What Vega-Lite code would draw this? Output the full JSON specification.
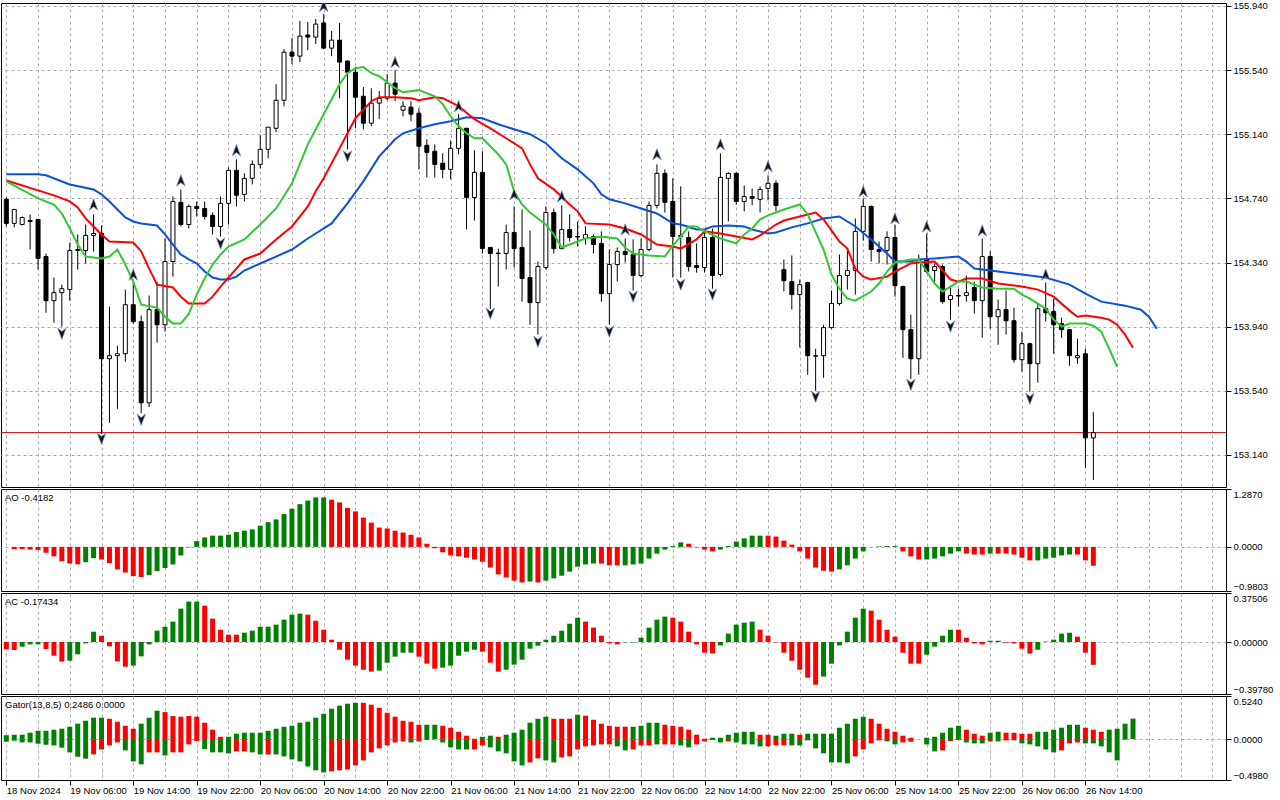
{
  "$schema": "https://vega.github.io/schema/vega-lite/v6.json",
  "background": "white",
  "padding": {"left": 0, "top": 0, "right": 0, "bottom": 0},
  "spacing": 2,
  "bounds": "flush",
  "config": {
    "view": {"stroke": "black", "strokeWidth": 1},
    "axis": {
      "labelFont": "Liberation Sans", "labelFontSize": 9.5, "labelColor": "black",
      "gridColor": "#b0a8b4", "gridDash": [3, 3], "gridWidth": 1,
      "domain": false, "tickColor": "black", "tickWidth": 1
    },
    "title": {"font": "Liberation Sans", "fontSize": 9.5, "fontWeight": "normal", "color": "black", "anchor": "start", "offset": -14, "dx": 4, "baseline": "bottom"}
  },
  "datasets": {
    "candles": [
      {"i":0,"o":154.734,"h":154.746,"l":154.565,"c":154.584},
      {"i":1,"o":154.584,"h":154.671,"l":154.559,"c":154.671},
      {"i":2,"o":154.577,"h":154.627,"l":154.571,"c":154.621},
      {"i":3,"o":154.602,"h":154.640,"l":154.421,"c":154.596},
      {"i":4,"o":154.609,"h":154.612,"l":154.296,"c":154.365},
      {"i":5,"o":154.377,"h":154.396,"l":154.027,"c":154.102},
      {"i":6,"o":154.102,"h":154.246,"l":153.965,"c":154.152},
      {"i":7,"o":154.152,"h":154.202,"l":153.940,"c":154.177},
      {"i":8,"o":154.171,"h":154.465,"l":154.102,"c":154.415},
      {"i":9,"o":154.415,"h":154.515,"l":154.296,"c":154.421},
      {"i":10,"o":154.415,"h":154.577,"l":154.334,"c":154.509},
      {"i":11,"o":154.509,"h":154.640,"l":154.409,"c":154.521},
      {"i":12,"o":154.521,"h":154.571,"l":153.271,"c":153.740},
      {"i":13,"o":153.740,"h":154.065,"l":153.340,"c":153.759},
      {"i":14,"o":153.759,"h":153.821,"l":153.427,"c":153.771},
      {"i":15,"o":153.771,"h":154.171,"l":153.721,"c":154.077},
      {"i":16,"o":154.077,"h":154.215,"l":153.959,"c":153.971},
      {"i":17,"o":153.971,"h":154.009,"l":153.402,"c":153.465},
      {"i":18,"o":153.465,"h":154.134,"l":153.440,"c":154.046},
      {"i":19,"o":154.046,"h":154.221,"l":153.840,"c":153.952},
      {"i":20,"o":153.952,"h":154.490,"l":153.909,"c":154.346},
      {"i":21,"o":154.346,"h":154.752,"l":154.252,"c":154.721},
      {"i":22,"o":154.715,"h":154.796,"l":154.565,"c":154.577},
      {"i":23,"o":154.577,"h":154.702,"l":154.552,"c":154.690},
      {"i":24,"o":154.690,"h":154.721,"l":154.627,"c":154.677},
      {"i":25,"o":154.677,"h":154.721,"l":154.609,"c":154.627},
      {"i":26,"o":154.634,"h":154.652,"l":154.515,"c":154.565},
      {"i":27,"o":154.565,"h":154.752,"l":154.502,"c":154.709},
      {"i":28,"o":154.709,"h":154.934,"l":154.577,"c":154.915},
      {"i":29,"o":154.915,"h":154.984,"l":154.690,"c":154.759},
      {"i":30,"o":154.765,"h":154.896,"l":154.721,"c":154.865},
      {"i":31,"o":154.865,"h":154.977,"l":154.827,"c":154.952},
      {"i":32,"o":154.952,"h":155.134,"l":154.927,"c":155.046},
      {"i":33,"o":155.046,"h":155.184,"l":154.990,"c":155.184},
      {"i":34,"o":155.177,"h":155.452,"l":155.152,"c":155.352},
      {"i":35,"o":155.352,"h":155.671,"l":155.315,"c":155.652},
      {"i":36,"o":155.652,"h":155.740,"l":155.577,"c":155.627},
      {"i":37,"o":155.627,"h":155.846,"l":155.590,"c":155.752},
      {"i":38,"o":155.759,"h":155.840,"l":155.665,"c":155.746},
      {"i":39,"o":155.746,"h":155.859,"l":155.702,"c":155.827},
      {"i":40,"o":155.834,"h":155.890,"l":155.670,"c":155.677},
      {"i":41,"o":155.677,"h":155.784,"l":155.627,"c":155.727},
      {"i":42,"o":155.727,"h":155.834,"l":155.365,"c":155.590},
      {"i":43,"o":155.596,"h":155.602,"l":155.046,"c":155.527},
      {"i":44,"o":155.527,"h":155.559,"l":155.177,"c":155.371},
      {"i":45,"o":155.377,"h":155.434,"l":155.171,"c":155.209},
      {"i":46,"o":155.209,"h":155.427,"l":155.190,"c":155.334},
      {"i":47,"o":155.334,"h":155.409,"l":155.234,"c":155.365},
      {"i":48,"o":155.365,"h":155.515,"l":155.352,"c":155.459},
      {"i":49,"o":155.459,"h":155.540,"l":155.346,"c":155.390},
      {"i":50,"o":155.290,"h":155.346,"l":155.252,"c":155.315},
      {"i":51,"o":155.309,"h":155.346,"l":155.221,"c":155.265},
      {"i":52,"o":155.271,"h":155.302,"l":154.921,"c":155.065},
      {"i":53,"o":155.071,"h":155.109,"l":154.871,"c":155.027},
      {"i":54,"o":155.034,"h":155.077,"l":154.871,"c":154.952},
      {"i":55,"o":154.959,"h":155.021,"l":154.865,"c":154.921},
      {"i":56,"o":154.921,"h":155.102,"l":154.859,"c":155.052},
      {"i":57,"o":155.052,"h":155.265,"l":155.015,"c":155.177},
      {"i":58,"o":155.177,"h":155.180,"l":154.546,"c":154.746},
      {"i":59,"o":154.746,"h":155.040,"l":154.602,"c":154.902},
      {"i":60,"o":154.902,"h":155.034,"l":154.396,"c":154.427},
      {"i":61,"o":154.434,"h":154.437,"l":154.052,"c":154.396},
      {"i":62,"o":154.396,"h":154.427,"l":154.190,"c":154.399},
      {"i":63,"o":154.396,"h":154.577,"l":154.296,"c":154.527},
      {"i":64,"o":154.527,"h":154.690,"l":154.309,"c":154.427},
      {"i":65,"o":154.434,"h":154.671,"l":154.096,"c":154.240},
      {"i":66,"o":154.246,"h":154.540,"l":153.952,"c":154.090},
      {"i":67,"o":154.090,"h":154.346,"l":153.890,"c":154.315},
      {"i":68,"o":154.309,"h":154.690,"l":154.296,"c":154.652},
      {"i":69,"o":154.652,"h":154.677,"l":154.396,"c":154.427},
      {"i":70,"o":154.427,"h":154.696,"l":154.421,"c":154.546},
      {"i":71,"o":154.546,"h":154.640,"l":154.471,"c":154.496},
      {"i":72,"o":154.502,"h":154.596,"l":154.440,"c":154.499},
      {"i":73,"o":154.490,"h":154.565,"l":154.452,"c":154.515},
      {"i":74,"o":154.502,"h":154.515,"l":154.396,"c":154.452},
      {"i":75,"o":154.459,"h":154.534,"l":154.096,"c":154.146},
      {"i":76,"o":154.146,"h":154.421,"l":153.952,"c":154.327},
      {"i":77,"o":154.327,"h":154.434,"l":154.221,"c":154.409},
      {"i":78,"o":154.409,"h":154.490,"l":154.340,"c":154.390},
      {"i":79,"o":154.390,"h":154.484,"l":154.165,"c":154.259},
      {"i":80,"o":154.259,"h":154.490,"l":154.246,"c":154.421},
      {"i":81,"o":154.421,"h":154.721,"l":154.409,"c":154.696},
      {"i":82,"o":154.696,"h":154.952,"l":154.677,"c":154.896},
      {"i":83,"o":154.896,"h":154.921,"l":154.652,"c":154.715},
      {"i":84,"o":154.721,"h":154.865,"l":154.246,"c":154.502},
      {"i":85,"o":154.502,"h":154.815,"l":154.246,"c":154.509},
      {"i":86,"o":154.496,"h":154.534,"l":154.284,"c":154.315},
      {"i":87,"o":154.321,"h":154.459,"l":154.277,"c":154.309},
      {"i":88,"o":154.309,"h":154.546,"l":154.277,"c":154.496},
      {"i":89,"o":154.496,"h":154.552,"l":154.177,"c":154.259},
      {"i":90,"o":154.265,"h":155.021,"l":154.252,"c":154.871},
      {"i":91,"o":154.865,"h":154.902,"l":154.596,"c":154.896},
      {"i":92,"o":154.896,"h":154.902,"l":154.702,"c":154.721},
      {"i":93,"o":154.721,"h":154.821,"l":154.659,"c":154.752},
      {"i":94,"o":154.752,"h":154.802,"l":154.696,"c":154.740},
      {"i":95,"o":154.734,"h":154.815,"l":154.652,"c":154.796},
      {"i":96,"o":154.802,"h":154.884,"l":154.727,"c":154.834},
      {"i":97,"o":154.834,"h":154.852,"l":154.659,"c":154.696},
      {"i":98,"o":154.296,"h":154.359,"l":154.159,"c":154.227},
      {"i":99,"o":154.221,"h":154.384,"l":154.046,"c":154.140},
      {"i":100,"o":154.140,"h":154.234,"l":153.809,"c":154.202},
      {"i":101,"o":154.215,"h":154.221,"l":153.640,"c":153.759},
      {"i":102,"o":153.759,"h":153.802,"l":153.540,"c":153.756},
      {"i":103,"o":153.759,"h":153.952,"l":153.621,"c":153.934},
      {"i":104,"o":153.934,"h":154.165,"l":153.927,"c":154.084},
      {"i":105,"o":154.084,"h":154.390,"l":154.071,"c":154.259},
      {"i":106,"o":154.259,"h":154.415,"l":154.171,"c":154.290},
      {"i":107,"o":154.290,"h":154.615,"l":154.140,"c":154.534},
      {"i":108,"o":154.534,"h":154.740,"l":154.477,"c":154.690},
      {"i":109,"o":154.690,"h":154.696,"l":154.346,"c":154.421},
      {"i":110,"o":154.421,"h":154.471,"l":154.334,"c":154.409},
      {"i":111,"o":154.415,"h":154.534,"l":154.327,"c":154.496},
      {"i":112,"o":154.496,"h":154.577,"l":154.127,"c":154.196},
      {"i":113,"o":154.190,"h":154.196,"l":153.746,"c":153.921},
      {"i":114,"o":153.921,"h":154.015,"l":153.615,"c":153.740},
      {"i":115,"o":153.740,"h":154.390,"l":153.640,"c":154.359},
      {"i":116,"o":154.365,"h":154.521,"l":154.271,"c":154.284},
      {"i":117,"o":154.290,"h":154.334,"l":154.221,"c":154.315},
      {"i":118,"o":154.315,"h":154.327,"l":154.084,"c":154.096},
      {"i":119,"o":154.109,"h":154.190,"l":153.984,"c":154.134},
      {"i":120,"o":154.134,"h":154.177,"l":154.065,"c":154.131},
      {"i":121,"o":154.134,"h":154.259,"l":154.096,"c":154.152},
      {"i":122,"o":154.184,"h":154.221,"l":154.021,"c":154.102},
      {"i":123,"o":154.102,"h":154.490,"l":153.871,"c":154.377},
      {"i":124,"o":154.377,"h":154.409,"l":153.927,"c":154.002},
      {"i":125,"o":154.002,"h":154.109,"l":153.827,"c":154.046},
      {"i":126,"o":154.046,"h":154.165,"l":153.890,"c":153.977},
      {"i":127,"o":153.977,"h":154.059,"l":153.715,"c":153.734},
      {"i":128,"o":153.734,"h":153.909,"l":153.659,"c":153.834},
      {"i":129,"o":153.834,"h":153.840,"l":153.534,"c":153.709},
      {"i":130,"o":153.709,"h":154.084,"l":153.590,"c":154.052},
      {"i":131,"o":154.052,"h":154.215,"l":153.971,"c":154.027},
      {"i":132,"o":154.034,"h":154.115,"l":153.771,"c":153.952},
      {"i":133,"o":153.959,"h":153.996,"l":153.871,"c":153.921},
      {"i":134,"o":153.921,"h":153.925,"l":153.696,"c":153.759},
      {"i":135,"o":153.746,"h":153.865,"l":153.709,"c":153.759},
      {"i":136,"o":153.771,"h":153.802,"l":153.059,"c":153.246},
      {"i":137,"o":153.246,"h":153.409,"l":152.984,"c":153.279}
    ],
    "jaw": [
      {"i":0,"v":154.890},{"i":4,"v":154.890},{"i":5,"v":154.884},{"i":8,"v":154.827},{"i":11,"v":154.796},{"i":12,"v":154.765},{"i":13,"v":154.721},{"i":14,"v":154.671},{"i":15,"v":154.621},{"i":16,"v":154.596},{"i":17,"v":154.584},{"i":19,"v":154.571},{"i":20,"v":154.515},{"i":21,"v":154.452},{"i":22,"v":154.390},{"i":23,"v":154.359},{"i":24,"v":154.334},{"i":25,"v":154.284},{"i":26,"v":154.246},{"i":27,"v":154.234},{"i":28,"v":154.234},{"i":29,"v":154.252},{"i":30,"v":154.290},{"i":32,"v":154.334},{"i":34,"v":154.377},{"i":36,"v":154.421},{"i":38,"v":154.490},{"i":39,"v":154.521},{"i":41,"v":154.584},{"i":43,"v":154.709},{"i":45,"v":154.846},{"i":47,"v":155.002},{"i":49,"v":155.109},{"i":50,"v":155.146},{"i":52,"v":155.177},{"i":54,"v":155.202},{"i":56,"v":155.221},{"i":58,"v":155.246},{"i":60,"v":155.240},{"i":62,"v":155.202},{"i":64,"v":155.171},{"i":66,"v":155.140},{"i":68,"v":155.084},{"i":70,"v":154.990},{"i":72,"v":154.921},{"i":74,"v":154.834},{"i":75,"v":154.765},{"i":76,"v":154.734},{"i":78,"v":154.709},{"i":80,"v":154.677},{"i":82,"v":154.646},{"i":84,"v":154.584},{"i":85,"v":154.577},{"i":87,"v":154.546},{"i":88,"v":154.546},{"i":89,"v":154.565},{"i":91,"v":154.571},{"i":93,"v":154.565},{"i":94,"v":154.546},{"i":96,"v":154.521},{"i":97,"v":154.527},{"i":99,"v":154.559},{"i":101,"v":154.584},{"i":103,"v":154.615},{"i":105,"v":154.627},{"i":107,"v":154.565},{"i":109,"v":154.484},{"i":111,"v":154.396},{"i":112,"v":154.346},{"i":114,"v":154.346},{"i":115,"v":154.359},{"i":117,"v":154.365},{"i":120,"v":154.377},{"i":121,"v":154.346},{"i":122,"v":154.302},{"i":125,"v":154.284},{"i":128,"v":154.265},{"i":131,"v":154.246},{"i":134,"v":154.202},{"i":136,"v":154.146},{"i":138,"v":154.096},{"i":141,"v":154.071},{"i":143,"v":154.046},{"i":144,"v":154.002},{"i":145,"v":153.927}
    ],
    "teeth": [
      {"i":0,"v":154.852},{"i":4,"v":154.790},{"i":6,"v":154.759},{"i":8,"v":154.721},{"i":9,"v":154.684},{"i":10,"v":154.615},{"i":11,"v":154.565},{"i":12,"v":154.515},{"i":13,"v":154.471},{"i":16,"v":154.465},{"i":17,"v":154.409},{"i":18,"v":154.302},{"i":19,"v":154.202},{"i":21,"v":154.184},{"i":22,"v":154.127},{"i":23,"v":154.084},{"i":25,"v":154.084},{"i":26,"v":154.127},{"i":27,"v":154.190},{"i":29,"v":154.302},{"i":30,"v":154.359},{"i":32,"v":154.396},{"i":34,"v":154.484},{"i":36,"v":154.565},{"i":38,"v":154.690},{"i":39,"v":154.784},{"i":40,"v":154.865},{"i":42,"v":155.052},{"i":44,"v":155.240},{"i":46,"v":155.346},{"i":47,"v":155.371},{"i":49,"v":155.371},{"i":51,"v":155.365},{"i":52,"v":155.352},{"i":54,"v":155.371},{"i":55,"v":155.365},{"i":57,"v":155.315},{"i":59,"v":155.234},{"i":61,"v":155.177},{"i":63,"v":155.115},{"i":65,"v":155.052},{"i":66,"v":154.952},{"i":67,"v":154.865},{"i":69,"v":154.796},{"i":71,"v":154.702},{"i":72,"v":154.659},{"i":73,"v":154.584},{"i":76,"v":154.577},{"i":78,"v":154.552},{"i":80,"v":154.515},{"i":82,"v":154.452},{"i":84,"v":154.440},{"i":85,"v":154.427},{"i":87,"v":154.484},{"i":88,"v":154.534},{"i":90,"v":154.521},{"i":92,"v":154.502},{"i":94,"v":154.484},{"i":95,"v":154.509},{"i":97,"v":154.577},{"i":98,"v":154.602},{"i":100,"v":154.627},{"i":102,"v":154.652},{"i":103,"v":154.609},{"i":105,"v":154.471},{"i":106,"v":154.427},{"i":107,"v":154.302},{"i":108,"v":154.252},{"i":109,"v":154.234},{"i":111,"v":154.252},{"i":112,"v":154.284},{"i":114,"v":154.334},{"i":115,"v":154.340},{"i":117,"v":154.346},{"i":119,"v":154.234},{"i":120,"v":154.221},{"i":121,"v":154.240},{"i":123,"v":154.240},{"i":125,"v":154.209},{"i":128,"v":154.190},{"i":130,"v":154.171},{"i":132,"v":154.127},{"i":134,"v":154.040},{"i":135,"v":154.002},{"i":136,"v":154.009},{"i":138,"v":153.996},{"i":139,"v":153.984},{"i":140,"v":153.952},{"i":141,"v":153.890},{"i":142,"v":153.809}
    ],
    "lips": [
      {"i":0,"v":154.846},{"i":4,"v":154.740},{"i":6,"v":154.702},{"i":7,"v":154.646},{"i":8,"v":154.552},{"i":9,"v":154.452},{"i":10,"v":154.377},{"i":12,"v":154.365},{"i":13,"v":154.377},{"i":14,"v":154.421},{"i":15,"v":154.327},{"i":16,"v":154.221},{"i":17,"v":154.077},{"i":19,"v":154.059},{"i":20,"v":154.002},{"i":21,"v":153.959},{"i":22,"v":153.959},{"i":23,"v":154.021},{"i":24,"v":154.140},{"i":25,"v":154.240},{"i":26,"v":154.327},{"i":27,"v":154.390},{"i":28,"v":154.440},{"i":30,"v":154.484},{"i":32,"v":154.577},{"i":34,"v":154.677},{"i":36,"v":154.834},{"i":38,"v":155.077},{"i":40,"v":155.265},{"i":42,"v":155.452},{"i":43,"v":155.521},{"i":44,"v":155.552},{"i":45,"v":155.559},{"i":46,"v":155.521},{"i":47,"v":155.502},{"i":49,"v":155.427},{"i":50,"v":155.402},{"i":52,"v":155.415},{"i":54,"v":155.377},{"i":55,"v":155.327},{"i":56,"v":155.252},{"i":57,"v":155.190},{"i":58,"v":155.146},{"i":59,"v":155.115},{"i":60,"v":155.115},{"i":61,"v":155.065},{"i":62,"v":155.015},{"i":63,"v":154.952},{"i":64,"v":154.784},{"i":65,"v":154.702},{"i":66,"v":154.652},{"i":68,"v":154.577},{"i":69,"v":154.515},{"i":70,"v":154.434},{"i":71,"v":154.452},{"i":72,"v":154.471},{"i":73,"v":154.490},{"i":75,"v":154.502},{"i":77,"v":154.490},{"i":78,"v":154.434},{"i":79,"v":154.396},{"i":81,"v":154.384},{"i":83,"v":154.377},{"i":84,"v":154.446},{"i":85,"v":154.502},{"i":86,"v":154.565},{"i":87,"v":154.565},{"i":88,"v":154.534},{"i":90,"v":154.490},{"i":92,"v":154.459},{"i":93,"v":154.515},{"i":94,"v":154.552},{"i":95,"v":154.609},{"i":96,"v":154.634},{"i":98,"v":154.671},{"i":100,"v":154.702},{"i":101,"v":154.640},{"i":103,"v":154.421},{"i":104,"v":154.265},{"i":105,"v":154.177},{"i":106,"v":154.115},{"i":107,"v":154.102},{"i":109,"v":154.159},{"i":110,"v":154.209},{"i":111,"v":154.284},{"i":112,"v":154.340},{"i":114,"v":154.359},{"i":115,"v":154.359},{"i":116,"v":154.284},{"i":117,"v":154.209},{"i":118,"v":154.159},{"i":119,"v":154.190},{"i":120,"v":154.221},{"i":121,"v":154.221},{"i":123,"v":154.184},{"i":125,"v":154.177},{"i":127,"v":154.177},{"i":128,"v":154.140},{"i":129,"v":154.115},{"i":130,"v":154.084},{"i":131,"v":154.052},{"i":132,"v":153.984},{"i":133,"v":153.940},{"i":134,"v":153.959},{"i":136,"v":153.959},{"i":137,"v":153.946},{"i":138,"v":153.909},{"i":139,"v":153.802},{"i":140,"v":153.690}
    ],
    "fractals": [
      {"i":11,"p":154.702,"dir":"up"},{"i":16,"p":154.265,"dir":"up"},{"i":22,"p":154.852,"dir":"up"},{"i":29,"p":155.040,"dir":"up"},{"i":40,"p":155.940,"dir":"up"},{"i":49,"p":155.590,"dir":"up"},{"i":57,"p":155.315,"dir":"up"},{"i":64,"p":154.765,"dir":"up"},{"i":70,"p":154.752,"dir":"up"},{"i":78,"p":154.546,"dir":"up"},{"i":82,"p":155.015,"dir":"up"},{"i":90,"p":155.077,"dir":"up"},{"i":96,"p":154.940,"dir":"up"},{"i":108,"p":154.784,"dir":"up"},{"i":112,"p":154.615,"dir":"up"},{"i":116,"p":154.565,"dir":"up"},{"i":123,"p":154.540,"dir":"up"},{"i":131,"p":154.265,"dir":"up"},
      {"i":7,"p":153.896,"dir":"down"},{"i":12,"p":153.240,"dir":"down"},{"i":17,"p":153.359,"dir":"down"},{"i":27,"p":154.459,"dir":"down"},{"i":43,"p":155.002,"dir":"down"},{"i":61,"p":154.021,"dir":"down"},{"i":67,"p":153.846,"dir":"down"},{"i":76,"p":153.909,"dir":"down"},{"i":79,"p":154.127,"dir":"down"},{"i":85,"p":154.202,"dir":"down"},{"i":89,"p":154.140,"dir":"down"},{"i":102,"p":153.502,"dir":"down"},{"i":114,"p":153.577,"dir":"down"},{"i":119,"p":153.940,"dir":"down"},{"i":129,"p":153.490,"dir":"down"}
    ],
    "last": [{"price": 153.279}],
    "osc": [
      {"i":0,"ao":null,"aoDir":"down","ac":-0.056,"acDir":"down"},
      {"i":1,"ao":-0.05,"aoDir":"down","ac":-0.061,"acDir":"down"},
      {"i":2,"ao":-0.05,"aoDir":"down","ac":-0.036,"acDir":"up"},
      {"i":3,"ao":-0.06,"aoDir":"down","ac":-0.018,"acDir":"up"},
      {"i":4,"ao":-0.07,"aoDir":"down","ac":-0.018,"acDir":"up"},
      {"i":5,"ao":-0.13,"aoDir":"down","ac":-0.054,"acDir":"down"},
      {"i":6,"ao":-0.21,"aoDir":"down","ac":-0.105,"acDir":"down"},
      {"i":7,"ao":-0.32,"aoDir":"down","ac":-0.150,"acDir":"down"},
      {"i":8,"ao":-0.37,"aoDir":"down","ac":-0.143,"acDir":"up"},
      {"i":9,"ao":-0.39,"aoDir":"down","ac":-0.094,"acDir":"up"},
      {"i":10,"ao":-0.34,"aoDir":"up","ac":-0.010,"acDir":"up"},
      {"i":11,"ao":-0.25,"aoDir":"up","ac":0.079,"acDir":"up"},
      {"i":12,"ao":-0.28,"aoDir":"down","ac":0.048,"acDir":"down"},
      {"i":13,"ao":-0.36,"aoDir":"down","ac":-0.033,"acDir":"down"},
      {"i":14,"ao":-0.50,"aoDir":"down","ac":-0.148,"acDir":"down"},
      {"i":15,"ao":-0.57,"aoDir":"down","ac":-0.189,"acDir":"down"},
      {"i":16,"ao":-0.65,"aoDir":"down","ac":-0.181,"acDir":"up"},
      {"i":17,"ao":-0.67,"aoDir":"down","ac":-0.110,"acDir":"up"},
      {"i":18,"ao":-0.63,"aoDir":"up","ac":-0.018,"acDir":"up"},
      {"i":19,"ao":-0.54,"aoDir":"up","ac":0.087,"acDir":"up"},
      {"i":20,"ao":-0.47,"aoDir":"up","ac":0.117,"acDir":"up"},
      {"i":21,"ao":-0.39,"aoDir":"up","ac":0.156,"acDir":"up"},
      {"i":22,"ao":-0.19,"aoDir":"up","ac":0.255,"acDir":"up"},
      {"i":23,"ao":-0.01,"aoDir":"up","ac":0.309,"acDir":"up"},
      {"i":24,"ao":0.13,"aoDir":"up","ac":0.309,"acDir":"up"},
      {"i":25,"ao":0.21,"aoDir":"up","ac":0.278,"acDir":"down"},
      {"i":26,"ao":0.25,"aoDir":"up","ac":0.179,"acDir":"down"},
      {"i":27,"ao":0.25,"aoDir":"up","ac":0.094,"acDir":"down"},
      {"i":28,"ao":0.27,"aoDir":"up","ac":0.056,"acDir":"down"},
      {"i":29,"ao":0.33,"aoDir":"up","ac":0.056,"acDir":"down"},
      {"i":30,"ao":0.36,"aoDir":"up","ac":0.071,"acDir":"up"},
      {"i":31,"ao":0.39,"aoDir":"up","ac":0.087,"acDir":"up"},
      {"i":32,"ao":0.47,"aoDir":"up","ac":0.117,"acDir":"up"},
      {"i":33,"ao":0.55,"aoDir":"up","ac":0.117,"acDir":"up"},
      {"i":34,"ao":0.61,"aoDir":"up","ac":0.133,"acDir":"up"},
      {"i":35,"ao":0.73,"aoDir":"up","ac":0.171,"acDir":"up"},
      {"i":36,"ao":0.85,"aoDir":"up","ac":0.209,"acDir":"up"},
      {"i":37,"ao":0.95,"aoDir":"up","ac":0.217,"acDir":"up"},
      {"i":38,"ao":1.03,"aoDir":"up","ac":0.209,"acDir":"down"},
      {"i":39,"ao":1.10,"aoDir":"up","ac":0.163,"acDir":"down"},
      {"i":40,"ao":1.10,"aoDir":"up","ac":0.094,"acDir":"down"},
      {"i":41,"ao":1.05,"aoDir":"down","ac":0.018,"acDir":"down"},
      {"i":42,"ao":0.99,"aoDir":"down","ac":-0.059,"acDir":"down"},
      {"i":43,"ao":0.87,"aoDir":"down","ac":-0.135,"acDir":"down"},
      {"i":44,"ao":0.79,"aoDir":"down","ac":-0.181,"acDir":"down"},
      {"i":45,"ao":0.65,"aoDir":"down","ac":-0.212,"acDir":"down"},
      {"i":46,"ao":0.54,"aoDir":"down","ac":-0.227,"acDir":"down"},
      {"i":47,"ao":0.43,"aoDir":"down","ac":-0.219,"acDir":"up"},
      {"i":48,"ao":0.41,"aoDir":"down","ac":-0.158,"acDir":"up"},
      {"i":49,"ao":0.36,"aoDir":"down","ac":-0.112,"acDir":"up"},
      {"i":50,"ao":0.32,"aoDir":"down","ac":-0.082,"acDir":"up"},
      {"i":51,"ao":0.27,"aoDir":"down","ac":-0.082,"acDir":"up"},
      {"i":52,"ao":0.21,"aoDir":"down","ac":-0.112,"acDir":"down"},
      {"i":53,"ao":0.07,"aoDir":"down","ac":-0.166,"acDir":"down"},
      {"i":54,"ao":-0.03,"aoDir":"down","ac":-0.204,"acDir":"down"},
      {"i":55,"ao":-0.12,"aoDir":"down","ac":-0.196,"acDir":"up"},
      {"i":56,"ao":-0.19,"aoDir":"down","ac":-0.181,"acDir":"up"},
      {"i":57,"ao":-0.21,"aoDir":"down","ac":-0.105,"acDir":"up"},
      {"i":58,"ao":-0.24,"aoDir":"down","ac":-0.074,"acDir":"up"},
      {"i":59,"ao":-0.28,"aoDir":"down","ac":-0.059,"acDir":"up"},
      {"i":60,"ao":-0.33,"aoDir":"down","ac":-0.074,"acDir":"down"},
      {"i":61,"ao":-0.46,"aoDir":"down","ac":-0.158,"acDir":"down"},
      {"i":62,"ao":-0.61,"aoDir":"down","ac":-0.227,"acDir":"down"},
      {"i":63,"ao":-0.68,"aoDir":"down","ac":-0.212,"acDir":"up"},
      {"i":64,"ao":-0.75,"aoDir":"down","ac":-0.173,"acDir":"up"},
      {"i":65,"ao":-0.79,"aoDir":"down","ac":-0.135,"acDir":"up"},
      {"i":66,"ao":-0.77,"aoDir":"up","ac":-0.051,"acDir":"up"},
      {"i":67,"ao":-0.79,"aoDir":"down","ac":-0.028,"acDir":"up"},
      {"i":68,"ao":-0.75,"aoDir":"up","ac":0.018,"acDir":"up"},
      {"i":69,"ao":-0.70,"aoDir":"up","ac":0.048,"acDir":"up"},
      {"i":70,"ao":-0.64,"aoDir":"up","ac":0.087,"acDir":"up"},
      {"i":71,"ao":-0.55,"aoDir":"up","ac":0.140,"acDir":"up"},
      {"i":72,"ao":-0.44,"aoDir":"up","ac":0.186,"acDir":"up"},
      {"i":73,"ao":-0.39,"aoDir":"up","ac":0.156,"acDir":"down"},
      {"i":74,"ao":-0.37,"aoDir":"up","ac":0.110,"acDir":"down"},
      {"i":75,"ao":-0.37,"aoDir":"down","ac":0.048,"acDir":"down"},
      {"i":76,"ao":-0.41,"aoDir":"down","ac":-0.010,"acDir":"down"},
      {"i":77,"ao":-0.41,"aoDir":"down","ac":-0.018,"acDir":"down"},
      {"i":78,"ao":-0.41,"aoDir":"up","ac":-0.003,"acDir":"up"},
      {"i":79,"ao":-0.39,"aoDir":"up","ac":-0.003,"acDir":"up"},
      {"i":80,"ao":-0.37,"aoDir":"up","ac":0.033,"acDir":"up"},
      {"i":81,"ao":-0.26,"aoDir":"up","ac":0.110,"acDir":"up"},
      {"i":82,"ao":-0.15,"aoDir":"up","ac":0.171,"acDir":"up"},
      {"i":83,"ao":-0.06,"aoDir":"up","ac":0.194,"acDir":"up"},
      {"i":84,"ao":0.02,"aoDir":"up","ac":0.186,"acDir":"down"},
      {"i":85,"ao":0.10,"aoDir":"up","ac":0.156,"acDir":"down"},
      {"i":86,"ao":0.07,"aoDir":"down","ac":0.079,"acDir":"down"},
      {"i":87,"ao":-0.01,"aoDir":"down","ac":-0.018,"acDir":"down"},
      {"i":88,"ao":-0.06,"aoDir":"down","ac":-0.082,"acDir":"down"},
      {"i":89,"ao":-0.10,"aoDir":"down","ac":-0.087,"acDir":"down"},
      {"i":90,"ao":-0.06,"aoDir":"up","ac":-0.026,"acDir":"up"},
      {"i":91,"ao":0.02,"aoDir":"up","ac":0.064,"acDir":"up"},
      {"i":92,"ao":0.12,"aoDir":"up","ac":0.133,"acDir":"up"},
      {"i":93,"ao":0.19,"aoDir":"up","ac":0.148,"acDir":"up"},
      {"i":94,"ao":0.25,"aoDir":"up","ac":0.156,"acDir":"up"},
      {"i":95,"ao":0.25,"aoDir":"up","ac":0.094,"acDir":"down"},
      {"i":96,"ao":0.25,"aoDir":"down","ac":0.048,"acDir":"down"},
      {"i":97,"ao":0.23,"aoDir":"down","ac":-0.003,"acDir":"down"},
      {"i":98,"ao":0.14,"aoDir":"down","ac":-0.082,"acDir":"down"},
      {"i":99,"ao":0.05,"aoDir":"down","ac":-0.143,"acDir":"down"},
      {"i":100,"ao":-0.10,"aoDir":"down","ac":-0.212,"acDir":"down"},
      {"i":101,"ao":-0.26,"aoDir":"down","ac":-0.273,"acDir":"down"},
      {"i":102,"ao":-0.46,"aoDir":"down","ac":-0.327,"acDir":"down"},
      {"i":103,"ao":-0.53,"aoDir":"down","ac":-0.265,"acDir":"up"},
      {"i":104,"ao":-0.55,"aoDir":"down","ac":-0.166,"acDir":"up"},
      {"i":105,"ao":-0.50,"aoDir":"up","ac":-0.026,"acDir":"up"},
      {"i":106,"ao":-0.41,"aoDir":"up","ac":0.079,"acDir":"up"},
      {"i":107,"ao":-0.26,"aoDir":"up","ac":0.186,"acDir":"up"},
      {"i":108,"ao":-0.10,"aoDir":"up","ac":0.255,"acDir":"up"},
      {"i":109,"ao":-0.005,"aoDir":"up","ac":0.240,"acDir":"down"},
      {"i":110,"ao":0.01,"aoDir":"up","ac":0.171,"acDir":"down"},
      {"i":111,"ao":0.02,"aoDir":"up","ac":0.094,"acDir":"down"},
      {"i":112,"ao":0.02,"aoDir":"up","ac":0.041,"acDir":"down"},
      {"i":113,"ao":-0.10,"aoDir":"down","ac":-0.082,"acDir":"down"},
      {"i":114,"ao":-0.21,"aoDir":"down","ac":-0.166,"acDir":"down"},
      {"i":115,"ao":-0.28,"aoDir":"down","ac":-0.166,"acDir":"down"},
      {"i":116,"ao":-0.28,"aoDir":"up","ac":-0.097,"acDir":"up"},
      {"i":117,"ao":-0.26,"aoDir":"up","ac":-0.036,"acDir":"up"},
      {"i":118,"ao":-0.21,"aoDir":"up","ac":0.048,"acDir":"up"},
      {"i":119,"ao":-0.15,"aoDir":"up","ac":0.094,"acDir":"up"},
      {"i":120,"ao":-0.10,"aoDir":"up","ac":0.094,"acDir":"down"},
      {"i":121,"ao":-0.15,"aoDir":"down","ac":0.033,"acDir":"down"},
      {"i":122,"ao":-0.17,"aoDir":"down","ac":-0.010,"acDir":"down"},
      {"i":123,"ao":-0.17,"aoDir":"down","ac":-0.018,"acDir":"down"},
      {"i":124,"ao":-0.15,"aoDir":"up","ac":0.010,"acDir":"up"},
      {"i":125,"ao":-0.15,"aoDir":"down","ac":0.010,"acDir":"up"},
      {"i":126,"ao":-0.15,"aoDir":"down","ac":-0.005,"acDir":"down"},
      {"i":127,"ao":-0.17,"aoDir":"down","ac":-0.010,"acDir":"down"},
      {"i":128,"ao":-0.24,"aoDir":"down","ac":-0.051,"acDir":"down"},
      {"i":129,"ao":-0.30,"aoDir":"down","ac":-0.089,"acDir":"down"},
      {"i":130,"ao":-0.30,"aoDir":"up","ac":-0.059,"acDir":"up"},
      {"i":131,"ao":-0.26,"aoDir":"up","ac":0.003,"acDir":"up"},
      {"i":132,"ao":-0.24,"aoDir":"up","ac":0.018,"acDir":"up"},
      {"i":133,"ao":-0.19,"aoDir":"up","ac":0.064,"acDir":"up"},
      {"i":134,"ao":-0.17,"aoDir":"up","ac":0.071,"acDir":"up"},
      {"i":135,"ao":-0.17,"aoDir":"down","ac":0.041,"acDir":"down"},
      {"i":136,"ao":-0.30,"aoDir":"down","ac":-0.082,"acDir":"down"},
      {"i":137,"ao":-0.4182,"aoDir":"down","ac":-0.17434,"acDir":"down"}
    ],
    "gator": [
      {"i":0,"up":0.045,"upDir":"up","dn":-0.032,"dnDir":"up"},
      {"i":1,"up":0.053,"upDir":"up","dn":-0.020,"dnDir":"up"},
      {"i":2,"up":0.053,"upDir":"up","dn":-0.041,"dnDir":"up"},
      {"i":3,"up":0.077,"upDir":"up","dn":-0.041,"dnDir":"up"},
      {"i":4,"up":0.101,"upDir":"up","dn":-0.057,"dnDir":"up"},
      {"i":5,"up":0.101,"upDir":"up","dn":-0.069,"dnDir":"up"},
      {"i":6,"up":0.114,"upDir":"up","dn":-0.077,"dnDir":"up"},
      {"i":7,"up":0.126,"upDir":"up","dn":-0.105,"dnDir":"up"},
      {"i":8,"up":0.150,"upDir":"up","dn":-0.162,"dnDir":"up"},
      {"i":9,"up":0.187,"upDir":"up","dn":-0.215,"dnDir":"up"},
      {"i":10,"up":0.223,"upDir":"up","dn":-0.239,"dnDir":"up"},
      {"i":11,"up":0.260,"upDir":"up","dn":-0.187,"dnDir":"down"},
      {"i":12,"up":0.260,"upDir":"up","dn":-0.126,"dnDir":"down"},
      {"i":13,"up":0.247,"upDir":"down","dn":-0.077,"dnDir":"down"},
      {"i":14,"up":0.211,"upDir":"down","dn":-0.041,"dnDir":"down"},
      {"i":15,"up":0.162,"upDir":"down","dn":-0.138,"dnDir":"up"},
      {"i":16,"up":0.126,"upDir":"down","dn":-0.272,"dnDir":"up"},
      {"i":17,"up":0.187,"upDir":"up","dn":-0.308,"dnDir":"up"},
      {"i":18,"up":0.260,"upDir":"up","dn":-0.162,"dnDir":"down"},
      {"i":19,"up":0.345,"upDir":"up","dn":-0.162,"dnDir":"down"},
      {"i":20,"up":0.328,"upDir":"down","dn":-0.199,"dnDir":"up"},
      {"i":21,"up":0.280,"upDir":"down","dn":-0.162,"dnDir":"down"},
      {"i":22,"up":0.272,"upDir":"down","dn":-0.162,"dnDir":"down"},
      {"i":23,"up":0.280,"upDir":"down","dn":-0.065,"dnDir":"down"},
      {"i":24,"up":0.272,"upDir":"down","dn":-0.024,"dnDir":"down"},
      {"i":25,"up":0.199,"upDir":"down","dn":-0.122,"dnDir":"up"},
      {"i":26,"up":0.114,"upDir":"down","dn":-0.162,"dnDir":"up"},
      {"i":27,"up":0.028,"upDir":"down","dn":-0.162,"dnDir":"up"},
      {"i":28,"up":0.028,"upDir":"up","dn":-0.174,"dnDir":"up"},
      {"i":29,"up":0.065,"upDir":"up","dn":-0.150,"dnDir":"down"},
      {"i":30,"up":0.077,"upDir":"up","dn":-0.150,"dnDir":"down"},
      {"i":31,"up":0.077,"upDir":"up","dn":-0.162,"dnDir":"up"},
      {"i":32,"up":0.077,"upDir":"up","dn":-0.187,"dnDir":"up"},
      {"i":33,"up":0.101,"upDir":"up","dn":-0.187,"dnDir":"down"},
      {"i":34,"up":0.126,"upDir":"up","dn":-0.187,"dnDir":"up"},
      {"i":35,"up":0.150,"upDir":"up","dn":-0.211,"dnDir":"up"},
      {"i":36,"up":0.162,"upDir":"up","dn":-0.247,"dnDir":"up"},
      {"i":37,"up":0.199,"upDir":"up","dn":-0.272,"dnDir":"up"},
      {"i":38,"up":0.211,"upDir":"up","dn":-0.333,"dnDir":"up"},
      {"i":39,"up":0.260,"upDir":"up","dn":-0.381,"dnDir":"up"},
      {"i":40,"up":0.308,"upDir":"up","dn":-0.406,"dnDir":"up"},
      {"i":41,"up":0.369,"upDir":"up","dn":-0.393,"dnDir":"down"},
      {"i":42,"up":0.406,"upDir":"up","dn":-0.381,"dnDir":"down"},
      {"i":43,"up":0.430,"upDir":"up","dn":-0.369,"dnDir":"down"},
      {"i":44,"up":0.442,"upDir":"up","dn":-0.320,"dnDir":"down"},
      {"i":45,"up":0.442,"upDir":"down","dn":-0.260,"dnDir":"down"},
      {"i":46,"up":0.418,"upDir":"down","dn":-0.162,"dnDir":"down"},
      {"i":47,"up":0.381,"upDir":"down","dn":-0.114,"dnDir":"down"},
      {"i":48,"up":0.320,"upDir":"down","dn":-0.077,"dnDir":"down"},
      {"i":49,"up":0.272,"upDir":"down","dn":-0.041,"dnDir":"down"},
      {"i":50,"up":0.223,"upDir":"down","dn":-0.028,"dnDir":"down"},
      {"i":51,"up":0.211,"upDir":"down","dn":-0.041,"dnDir":"up"},
      {"i":52,"up":0.174,"upDir":"down","dn":-0.028,"dnDir":"down"},
      {"i":53,"up":0.174,"upDir":"up","dn":-0.012,"dnDir":"down"},
      {"i":54,"up":0.174,"upDir":"up","dn":-0.004,"dnDir":"down"},
      {"i":55,"up":0.162,"upDir":"down","dn":-0.041,"dnDir":"up"},
      {"i":56,"up":0.138,"upDir":"down","dn":-0.101,"dnDir":"up"},
      {"i":57,"up":0.089,"upDir":"down","dn":-0.126,"dnDir":"up"},
      {"i":58,"up":0.041,"upDir":"down","dn":-0.126,"dnDir":"up"},
      {"i":59,"up":0.004,"upDir":"down","dn":-0.126,"dnDir":"down"},
      {"i":60,"up":0.028,"upDir":"up","dn":-0.077,"dnDir":"down"},
      {"i":61,"up":0.041,"upDir":"up","dn":-0.101,"dnDir":"up"},
      {"i":62,"up":0.028,"upDir":"down","dn":-0.150,"dnDir":"up"},
      {"i":63,"up":0.053,"upDir":"up","dn":-0.174,"dnDir":"up"},
      {"i":64,"up":0.077,"upDir":"up","dn":-0.272,"dnDir":"up"},
      {"i":65,"up":0.114,"upDir":"up","dn":-0.320,"dnDir":"up"},
      {"i":66,"up":0.199,"upDir":"up","dn":-0.284,"dnDir":"down"},
      {"i":67,"up":0.247,"upDir":"up","dn":-0.235,"dnDir":"down"},
      {"i":68,"up":0.272,"upDir":"up","dn":-0.260,"dnDir":"up"},
      {"i":69,"up":0.247,"upDir":"down","dn":-0.284,"dnDir":"up"},
      {"i":70,"up":0.247,"upDir":"down","dn":-0.223,"dnDir":"down"},
      {"i":71,"up":0.247,"upDir":"down","dn":-0.211,"dnDir":"down"},
      {"i":72,"up":0.296,"upDir":"up","dn":-0.126,"dnDir":"down"},
      {"i":73,"up":0.284,"upDir":"down","dn":-0.089,"dnDir":"down"},
      {"i":74,"up":0.235,"upDir":"down","dn":-0.077,"dnDir":"down"},
      {"i":75,"up":0.187,"upDir":"down","dn":-0.065,"dnDir":"down"},
      {"i":76,"up":0.162,"upDir":"down","dn":-0.065,"dnDir":"down"},
      {"i":77,"up":0.150,"upDir":"down","dn":-0.089,"dnDir":"up"},
      {"i":78,"up":0.150,"upDir":"down","dn":-0.138,"dnDir":"up"},
      {"i":79,"up":0.150,"upDir":"up","dn":-0.126,"dnDir":"down"},
      {"i":80,"up":0.162,"upDir":"up","dn":-0.077,"dnDir":"down"},
      {"i":81,"up":0.199,"upDir":"up","dn":-0.077,"dnDir":"down"},
      {"i":82,"up":0.199,"upDir":"up","dn":-0.065,"dnDir":"up"},
      {"i":83,"up":0.174,"upDir":"down","dn":-0.065,"dnDir":"down"},
      {"i":84,"up":0.162,"upDir":"down","dn":-0.065,"dnDir":"down"},
      {"i":85,"up":0.150,"upDir":"down","dn":-0.077,"dnDir":"up"},
      {"i":86,"up":0.114,"upDir":"down","dn":-0.101,"dnDir":"up"},
      {"i":87,"up":0.053,"upDir":"down","dn":-0.065,"dnDir":"down"},
      {"i":88,"up":0.004,"upDir":"down","dn":-0.028,"dnDir":"down"},
      {"i":89,"up":0.016,"upDir":"up","dn":-0.012,"dnDir":"down"},
      {"i":90,"up":0.016,"upDir":"up","dn":-0.041,"dnDir":"up"},
      {"i":91,"up":0.053,"upDir":"up","dn":-0.028,"dnDir":"down"},
      {"i":92,"up":0.077,"upDir":"up","dn":-0.041,"dnDir":"up"},
      {"i":93,"up":0.089,"upDir":"up","dn":-0.065,"dnDir":"up"},
      {"i":94,"up":0.089,"upDir":"up","dn":-0.065,"dnDir":"up"},
      {"i":95,"up":0.053,"upDir":"down","dn":-0.089,"dnDir":"up"},
      {"i":96,"up":0.053,"upDir":"down","dn":-0.089,"dnDir":"down"},
      {"i":97,"up":0.041,"upDir":"up","dn":-0.077,"dnDir":"down"},
      {"i":98,"up":0.065,"upDir":"up","dn":-0.077,"dnDir":"down"},
      {"i":99,"up":0.065,"upDir":"up","dn":-0.077,"dnDir":"up"},
      {"i":100,"up":0.053,"upDir":"down","dn":-0.077,"dnDir":"up"},
      {"i":101,"up":0.065,"upDir":"up","dn":-0.016,"dnDir":"down"},
      {"i":102,"up":0.065,"upDir":"up","dn":-0.114,"dnDir":"up"},
      {"i":103,"up":0.065,"upDir":"up","dn":-0.174,"dnDir":"up"},
      {"i":104,"up":0.065,"upDir":"up","dn":-0.284,"dnDir":"up"},
      {"i":105,"up":0.138,"upDir":"up","dn":-0.284,"dnDir":"up"},
      {"i":106,"up":0.187,"upDir":"up","dn":-0.296,"dnDir":"up"},
      {"i":107,"up":0.247,"upDir":"up","dn":-0.211,"dnDir":"down"},
      {"i":108,"up":0.272,"upDir":"up","dn":-0.126,"dnDir":"down"},
      {"i":109,"up":0.247,"upDir":"down","dn":-0.053,"dnDir":"down"},
      {"i":110,"up":0.187,"upDir":"down","dn":-0.016,"dnDir":"down"},
      {"i":111,"up":0.126,"upDir":"down","dn":-0.028,"dnDir":"up"},
      {"i":112,"up":0.089,"upDir":"down","dn":-0.065,"dnDir":"up"},
      {"i":113,"up":0.041,"upDir":"down","dn":-0.041,"dnDir":"down"},
      {"i":114,"up":0.016,"upDir":"down","dn":-0.032,"dnDir":"down"},
      {"i":116,"up":0.016,"upDir":"up","dn":-0.065,"dnDir":"up"},
      {"i":117,"up":0.028,"upDir":"up","dn":-0.150,"dnDir":"up"},
      {"i":118,"up":0.077,"upDir":"up","dn":-0.138,"dnDir":"down"},
      {"i":119,"up":0.138,"upDir":"up","dn":-0.024,"dnDir":"down"},
      {"i":120,"up":0.162,"upDir":"up","dn":-0.012,"dnDir":"up"},
      {"i":121,"up":0.114,"upDir":"down","dn":-0.041,"dnDir":"up"},
      {"i":122,"up":0.065,"upDir":"down","dn":-0.053,"dnDir":"up"},
      {"i":123,"up":0.041,"upDir":"down","dn":-0.053,"dnDir":"up"},
      {"i":124,"up":0.077,"upDir":"up","dn":-0.028,"dnDir":"down"},
      {"i":125,"up":0.089,"upDir":"up","dn":-0.028,"dnDir":"up"},
      {"i":126,"up":0.077,"upDir":"down","dn":-0.016,"dnDir":"down"},
      {"i":127,"up":0.077,"upDir":"down","dn":-0.016,"dnDir":"up"},
      {"i":128,"up":0.065,"upDir":"down","dn":-0.053,"dnDir":"up"},
      {"i":129,"up":0.065,"upDir":"down","dn":-0.065,"dnDir":"up"},
      {"i":130,"up":0.089,"upDir":"up","dn":-0.089,"dnDir":"up"},
      {"i":131,"up":0.089,"upDir":"up","dn":-0.126,"dnDir":"up"},
      {"i":132,"up":0.114,"upDir":"up","dn":-0.162,"dnDir":"up"},
      {"i":133,"up":0.138,"upDir":"up","dn":-0.138,"dnDir":"down"},
      {"i":134,"up":0.174,"upDir":"up","dn":-0.053,"dnDir":"down"},
      {"i":135,"up":0.174,"upDir":"up","dn":-0.041,"dnDir":"down"},
      {"i":136,"up":0.138,"upDir":"down","dn":-0.053,"dnDir":"up"},
      {"i":137,"up":0.114,"upDir":"down","dn":-0.053,"dnDir":"up"},
      {"i":138,"up":0.089,"upDir":"down","dn":-0.089,"dnDir":"up"},
      {"i":139,"up":0.114,"upDir":"up","dn":-0.162,"dnDir":"up"},
      {"i":140,"up":0.126,"upDir":"up","dn":-0.260,"dnDir":"up"},
      {"i":141,"up":0.187,"upDir":"up","dn":-0.008,"dnDir":"down"},
      {"i":142,"up":0.2486,"upDir":"up","dn":null,"dnDir":"down"}
    ]
  },
  "vconcat": [
    {
      "width": 1225,
      "height": 484,
      "layer": [
        {
          "data": {"name": "last"},
          "mark": {"type": "rule", "color": "#c00000", "strokeWidth": 1, "clip": true},
          "encoding": {
            "y": {"field": "price", "type": "quantitative", "scale": {"domain": [152.94, 155.9585], "nice": false, "zero": false}, "title": null,
              "axis": {"orient": "right", "values": [153.14, 153.34, 153.54, 153.74, 153.94, 154.14, 154.34, 154.54, 154.74, 154.94, 155.14, 155.34, 155.54, 155.74, 155.94], "format": ".3f", "tickSize": 5, "labelPadding": 2, "grid": true, "labelFlush": false, "labelOverlap": false, "labelBound": false}}
          }
        },
        {
          "encoding": {
            "x": {"field": "i", "type": "quantitative", "title": null, "scale": {"domain": [-0.04, 153.09], "nice": false, "zero": false},
              "axis": {"values": [0,4,8,12,16,20,24,28,32,36,40,44,48,52,56,60,64,68,72,76,80,84,88,92,96,100,104,108,112,116,120,124,128,132,136,140,144,148,152], "labels": false, "ticks": false, "grid": true}}
          },
          "layer": [
            {
              "data": {"name": "candles"},
              "mark": {"type": "rule", "color": "black", "strokeWidth": 1, "clip": true},
              "encoding": {
                "y": {"field": "l", "type": "quantitative", "scale": {"domain": [152.94, 155.9585], "nice": false, "zero": false}, "title": null},
                "y2": {"field": "h"}
              }
            },
            {
              "data": {"name": "candles"},
              "mark": {"type": "bar", "size": 4, "stroke": "black", "strokeWidth": 1, "clip": true},
              "encoding": {
                "y": {"field": "o", "type": "quantitative", "scale": {"domain": [152.94, 155.9585], "nice": false, "zero": false}, "title": null},
                "y2": {"field": "c"},
                "fill": {"condition": {"test": "datum.c >= datum.o", "value": "white"}, "value": "black"}
              }
            },
            {
              "data": {"name": "jaw"},
              "mark": {"type": "line", "color": "#0a50dc", "strokeWidth": 2, "clip": true},
              "encoding": {
                "y": {"field": "v", "type": "quantitative", "scale": {"domain": [152.94, 155.9585], "nice": false, "zero": false}, "title": null}
              }
            },
            {
              "data": {"name": "teeth"},
              "mark": {"type": "line", "color": "#ff0000", "strokeWidth": 2, "clip": true},
              "encoding": {
                "y": {"field": "v", "type": "quantitative", "scale": {"domain": [152.94, 155.9585], "nice": false, "zero": false}, "title": null}
              }
            },
            {
              "data": {"name": "lips"},
              "mark": {"type": "line", "color": "#32c832", "strokeWidth": 2, "clip": true},
              "encoding": {
                "y": {"field": "v", "type": "quantitative", "scale": {"domain": [152.94, 155.9585], "nice": false, "zero": false}, "title": null}
              }
            },
            {
              "data": {"name": "fractals"},
              "transform": [{"filter": "datum.dir == 'up'"}],
              "mark": {"type": "point", "shape": "M0,-1L0.75,1L0,0.4L-0.75,1Z", "size": 130, "filled": true, "fill": "#141414", "stroke": "#7a96c8", "strokeWidth": 0.7, "opacity": 1, "clip": true},
              "encoding": {
                "y": {"field": "p", "type": "quantitative", "scale": {"domain": [152.94, 155.9585], "nice": false, "zero": false}, "title": null}
              }
            },
            {
              "data": {"name": "fractals"},
              "transform": [{"filter": "datum.dir == 'down'"}],
              "mark": {"type": "point", "shape": "M0,1L0.75,-1L0,-0.4L-0.75,-1Z", "size": 130, "filled": true, "fill": "#141414", "stroke": "#7a96c8", "strokeWidth": 0.7, "opacity": 1, "clip": true},
              "encoding": {
                "y": {"field": "p", "type": "quantitative", "scale": {"domain": [152.94, 155.9585], "nice": false, "zero": false}, "title": null}
              }
            },
            {
              "data": {"name": "last"},
              "mark": {"type": "point", "shape": "M0.1,-0.36L2.55,-0.36L2.55,0.36L0.1,0.36Z", "size": 1024, "filled": true, "fill": "#d00000", "strokeWidth": 0, "opacity": 1},
              "encoding": {
                "x": {"datum": 153.09},
                "y": {"field": "price", "type": "quantitative", "scale": {"domain": [152.94, 155.9585], "nice": false, "zero": false}, "title": null}
              }
            },
            {
              "data": {"name": "last"},
              "mark": {"type": "text", "align": "left", "baseline": "middle", "dx": 6, "font": "Liberation Sans", "fontSize": 9.5, "color": "white"},
              "encoding": {
                "x": {"datum": 153.09},
                "y": {"field": "price", "type": "quantitative", "scale": {"domain": [152.94, 155.9585], "nice": false, "zero": false}, "title": null},
                "text": {"field": "price", "type": "quantitative", "format": ".3f"}
              }
            }
          ]
        }
      ]
    },
    {
      "width": 1225,
      "height": 102,
      "title": {"text": "AO -0.4182"},
      "data": {"name": "osc"},
      "mark": {"type": "bar", "size": 5, "clip": true},
      "encoding": {
        "x": {"field": "i", "type": "quantitative", "title": null, "scale": {"domain": [-0.04, 153.09], "nice": false, "zero": false},
          "axis": {"values": [0,4,8,12,16,20,24,28,32,36,40,44,48,52,56,60,64,68,72,76,80,84,88,92,96,100,104,108,112,116,120,124,128,132,136,140,144,148,152], "labels": false, "ticks": false, "grid": true}},
        "y": {"field": "ao", "type": "quantitative", "title": null, "scale": {"domain": [-0.9803, 1.287], "nice": false, "zero": false},
          "axis": {"orient": "right", "values": [-0.9803, 0, 1.287], "format": ".4f", "tickSize": 5, "labelPadding": 2, "labelFlush": true, "labelOverlap": false, "grid": true, "gridOpacity": {"condition": {"test": "datum.value == 0", "value": 1}, "value": 0}}},
        "y2": {"datum": 0},
        "color": {"field": "aoDir", "type": "nominal", "scale": {"domain": ["up", "down"], "range": ["#008000", "#ff0000"]}, "legend": null}
      }
    },
    {
      "width": 1225,
      "height": 101,
      "title": {"text": "AC -0.17434"},
      "data": {"name": "osc"},
      "mark": {"type": "bar", "size": 5, "clip": true},
      "encoding": {
        "x": {"field": "i", "type": "quantitative", "title": null, "scale": {"domain": [-0.04, 153.09], "nice": false, "zero": false},
          "axis": {"values": [0,4,8,12,16,20,24,28,32,36,40,44,48,52,56,60,64,68,72,76,80,84,88,92,96,100,104,108,112,116,120,124,128,132,136,140,144,148,152], "labels": false, "ticks": false, "grid": true}},
        "y": {"field": "ac", "type": "quantitative", "title": null, "scale": {"domain": [-0.3978, 0.37506], "nice": false, "zero": false},
          "axis": {"orient": "right", "values": [-0.3978, 0, 0.37506], "format": ".5f", "tickSize": 5, "labelPadding": 2, "labelFlush": true, "labelOverlap": false, "grid": true, "gridOpacity": {"condition": {"test": "datum.value == 0", "value": 1}, "value": 0}}},
        "y2": {"datum": 0},
        "color": {"field": "acDir", "type": "nominal", "scale": {"domain": ["up", "down"], "range": ["#008000", "#ff0000"]}, "legend": null}
      }
    },
    {
      "width": 1225,
      "height": 84,
      "title": {"text": "Gator(13,8,5) 0.2486 0.0000"},
      "data": {"name": "gator"},
      "encoding": {
        "x": {"field": "i", "type": "quantitative", "title": null, "scale": {"domain": [-0.04, 153.09], "nice": false, "zero": false},
          "axis": {"values": [0,4,8,12,16,20,24,28,32,36,40,44,48,52,56,60,64,68,72,76,80,84,88,92,96,100,104,108,112,116,120,124,128,132,136,140,144,148,152],
            "grid": true, "tickSize": 5, "labelPadding": 0, "labelAlign": "left", "labelBaseline": "top", "labelOffset": 0, "labelFlush": false, "labelOverlap": false, "labelBound": false,
            "tickOpacity": {"condition": {"test": "datum.value % 8 == 0 && datum.value <= 136", "value": 1}, "value": 0},
            "labelExpr": "datum.value % 8 == 0 ? (['18 Nov 2024','19 Nov 06:00','19 Nov 14:00','19 Nov 22:00','20 Nov 06:00','20 Nov 14:00','20 Nov 22:00','21 Nov 06:00','21 Nov 14:00','21 Nov 22:00','22 Nov 06:00','22 Nov 14:00','22 Nov 22:00','25 Nov 06:00','25 Nov 14:00','25 Nov 22:00','26 Nov 06:00','26 Nov 14:00'][datum.value / 8] || '') : ''"}}
      },
      "layer": [
        {
          "mark": {"type": "bar", "size": 5, "clip": true},
          "encoding": {
            "y": {"field": "up", "type": "quantitative", "title": null, "scale": {"domain": [-0.498, 0.524], "nice": false, "zero": false},
              "axis": {"orient": "right", "values": [-0.498, 0, 0.524], "format": ".4f", "tickSize": 5, "labelPadding": 2, "labelFlush": true, "labelOverlap": false, "grid": true, "gridOpacity": {"condition": {"test": "datum.value == 0", "value": 1}, "value": 0}}},
            "y2": {"datum": 0},
            "color": {"field": "upDir", "type": "nominal", "scale": {"domain": ["up", "down"], "range": ["#008000", "#ff0000"]}, "legend": null}
          }
        },
        {
          "mark": {"type": "bar", "size": 5, "clip": true},
          "encoding": {
            "y": {"field": "dn", "type": "quantitative", "title": null, "scale": {"domain": [-0.498, 0.524], "nice": false, "zero": false}},
            "y2": {"datum": 0},
            "color": {"field": "dnDir", "type": "nominal", "scale": {"domain": ["up", "down"], "range": ["#008000", "#ff0000"]}, "legend": null}
          }
        }
      ]
    }
  ]
}
